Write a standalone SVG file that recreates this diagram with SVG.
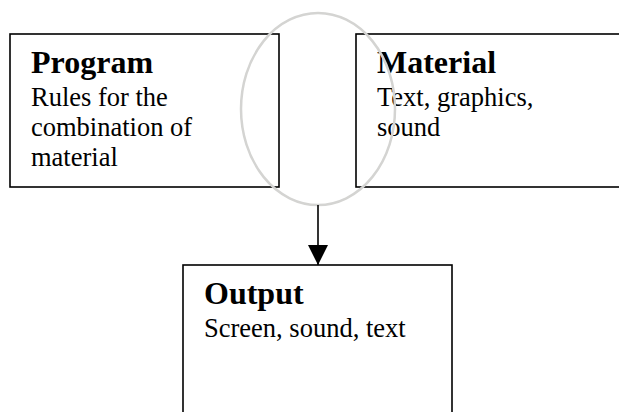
<svg xmlns="http://www.w3.org/2000/svg" width="619" height="412" viewBox="0 0 619 412">
  <style>
    .box { fill: #ffffff; stroke: #000000; stroke-width: 1.6; }
    .title { font-family: "Liberation Serif", "Times New Roman", serif; font-weight: bold; font-size: 32px; fill: #000000; }
    .body { font-family: "Liberation Serif", "Times New Roman", serif; font-size: 26.5px; fill: #000000; }
    .ring { fill: none; stroke: #d4d4d2; stroke-width: 2.5; }
    .link { stroke: #000000; stroke-width: 1.6; fill: none; }
  </style>
  <defs>
    <marker id="arrowhead" markerUnits="userSpaceOnUse" markerWidth="20" markerHeight="22" refX="20" refY="10" orient="auto">
      <path d="M0,0 L20,10 L0,20 Z" fill="#000000"/>
    </marker>
  </defs>
  <rect width="619" height="412" fill="#ffffff"/>

  <g id="program">
    <rect class="box" x="10" y="34" width="269" height="153"/>
    <text class="title" x="31" y="73">Program</text>
    <text class="body" x="31" y="106">Rules for the</text>
    <text class="body" x="31" y="136">combination of</text>
    <text class="body" x="31" y="166">material</text>
  </g>

  <g id="material">
    <rect class="box" x="356" y="34" width="280" height="153"/>
    <text class="title" x="377" y="73">Material</text>
    <text class="body" x="377" y="106">Text, graphics,</text>
    <text class="body" x="377" y="136">sound</text>
  </g>

  <g id="output">
    <rect class="box" x="183" y="265" width="269" height="170"/>
    <text class="title" x="204" y="304">Output</text>
    <text class="body" x="204" y="337">Screen, sound, text</text>
  </g>

  <g id="combination">
    <ellipse class="ring" cx="318" cy="109" rx="77" ry="96"/>
  </g>

  <g id="connectors">
    <line class="link" x1="318" y1="205" x2="318" y2="265" marker-end="url(#arrowhead)"/>
  </g>
</svg>
